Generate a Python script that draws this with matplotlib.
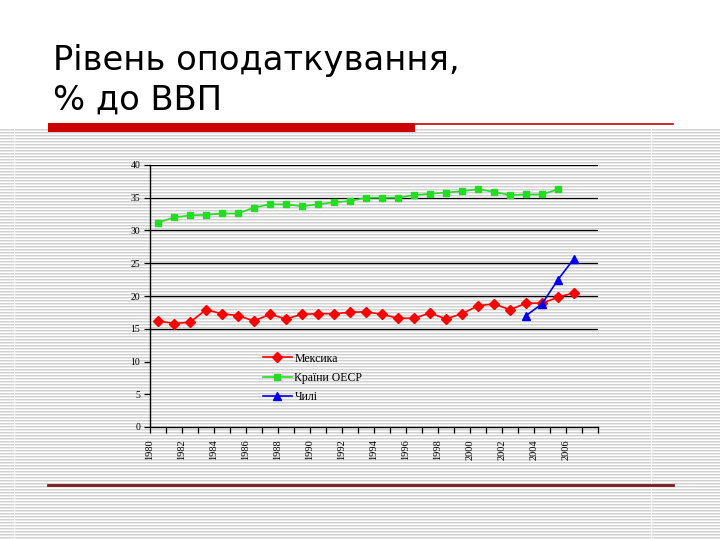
import numpy as np
import matplotlib
matplotlib.use("Agg")
import matplotlib.pyplot as plt

years = list(range(1980, 2008))
mexico = [16.2, 15.8, 16.0, 17.9, 17.3, 17.0, 16.2, 17.2, 16.5, 17.2,
          17.3, 17.3, 17.5, 17.6, 17.2, 16.6, 16.6, 17.4, 16.5, 17.3,
          18.5, 18.8, 17.9, 18.9, 18.9, 19.8, 20.5]
oecd = [31.2, 32.0, 32.3, 32.4, 32.6, 32.6, 33.5, 34.0, 34.0, 33.7,
        34.0, 34.3, 34.5, 35.0, 35.0, 35.0, 35.4, 35.6, 35.8, 36.0,
        36.3, 35.9, 35.4, 35.5, 35.5, 36.3]
chile_years = [2003, 2004, 2005, 2006]
chile = [17.0, 18.8, 22.5, 25.7]
tick_years = list(range(1980, 2008, 2))
labels = ["Мексика", "Країни ОЕСР", "Чилі"]
title_lines = ["Рівень оподаткування,", "% до ВВП"]

W, H = 720, 540
fig = plt.figure(figsize=(7.2, 5.4), dpi=100)

# striped slide background
bg = np.ones((H, W))
rows = np.arange(H)
stripe = np.where(rows % 3 == 0, 0.82, np.where(rows % 3 == 1, 0.91, 1.0))
bg[129:, :] = stripe[129:, None]
bg[129:, 14] = 1.0
bg[129:, 651] = 1.0
bax = fig.add_axes([0, 0, 1, 1])
bax.imshow(bg, cmap="gray", vmin=0, vmax=1, interpolation="nearest",
           extent=(0, W, H, 0), aspect="auto")
bax.set_xlim(0, W)
bax.set_ylim(H, 0)
bax.axis("off")

# title and decoration lines
bax.text(53, 70, title_lines[0], fontsize=24.3, family="DejaVu Sans",
         va="baseline", ha="left", color="black")
bax.text(53, 110, title_lines[1], fontsize=24.3, family="DejaVu Sans",
         va="baseline", ha="left", color="black")
bax.add_patch(plt.Rectangle((48, 123), 367, 9, color="#cc0000", lw=0))
bax.plot([415, 673], [124, 124], color="#cc0000", lw=1.2)
bax.plot([48, 673], [485, 485], color="#7a1a1a", lw=2)

# chart
ax = fig.add_axes([150 / W, (H - 427) / H, 448 / W, 262 / H])
ax.patch.set_alpha(0)
xi = {y: i for i, y in enumerate(years)}
ax.plot([xi[y] for y in years[:len(mexico)]], mexico, color="#ff0000",
        marker="D", ms=5, lw=1.2, label=labels[0])
ax.plot([xi[y] for y in years[:len(oecd)]], oecd, color="#22dd22",
        marker="s", ms=4, lw=1.2, label=labels[1])
ax.plot([xi[y] for y in chile_years], chile, color="#0000ee",
        marker="^", ms=6, lw=1.2, label=labels[2])

for v in range(15, 41, 5):
    ax.axhline(v, color="black", lw=0.9, zorder=0)

ax.set_xlim(-0.5, len(years) - 0.5)
ax.set_ylim(0, 40)
ax.set_yticks(range(0, 41, 5))
ax.set_yticklabels([str(v) for v in range(0, 41, 5)], family="Liberation Serif",
                   fontsize=7)
ax.set_xticks([i - 0.5 for i in range(len(years) + 1)])
ax.set_xticklabels([str(years[i]) if i < len(years) and years[i] in tick_years else ""
                    for i in range(len(years) + 1)],
                   rotation=90, family="Liberation Serif", fontsize=7.5)
ax.tick_params(axis="both", direction="out", length=4, width=0.9, pad=3)
ax.tick_params(axis="x", pad=5)
for s in ["top", "right"]:
    ax.spines[s].set_visible(False)
for s in ["left", "bottom"]:
    ax.spines[s].set_linewidth(1.0)

ax.legend(loc="upper left", bbox_to_anchor=(252 / W, 1 - 342 / H),
          bbox_transform=fig.transFigure, frameon=False,
          prop={"family": "Liberation Serif", "size": 8.5},
          handlelength=2.5, handletextpad=0.2, labelspacing=0.6)

fig.savefig("out.png", dpi=100)
